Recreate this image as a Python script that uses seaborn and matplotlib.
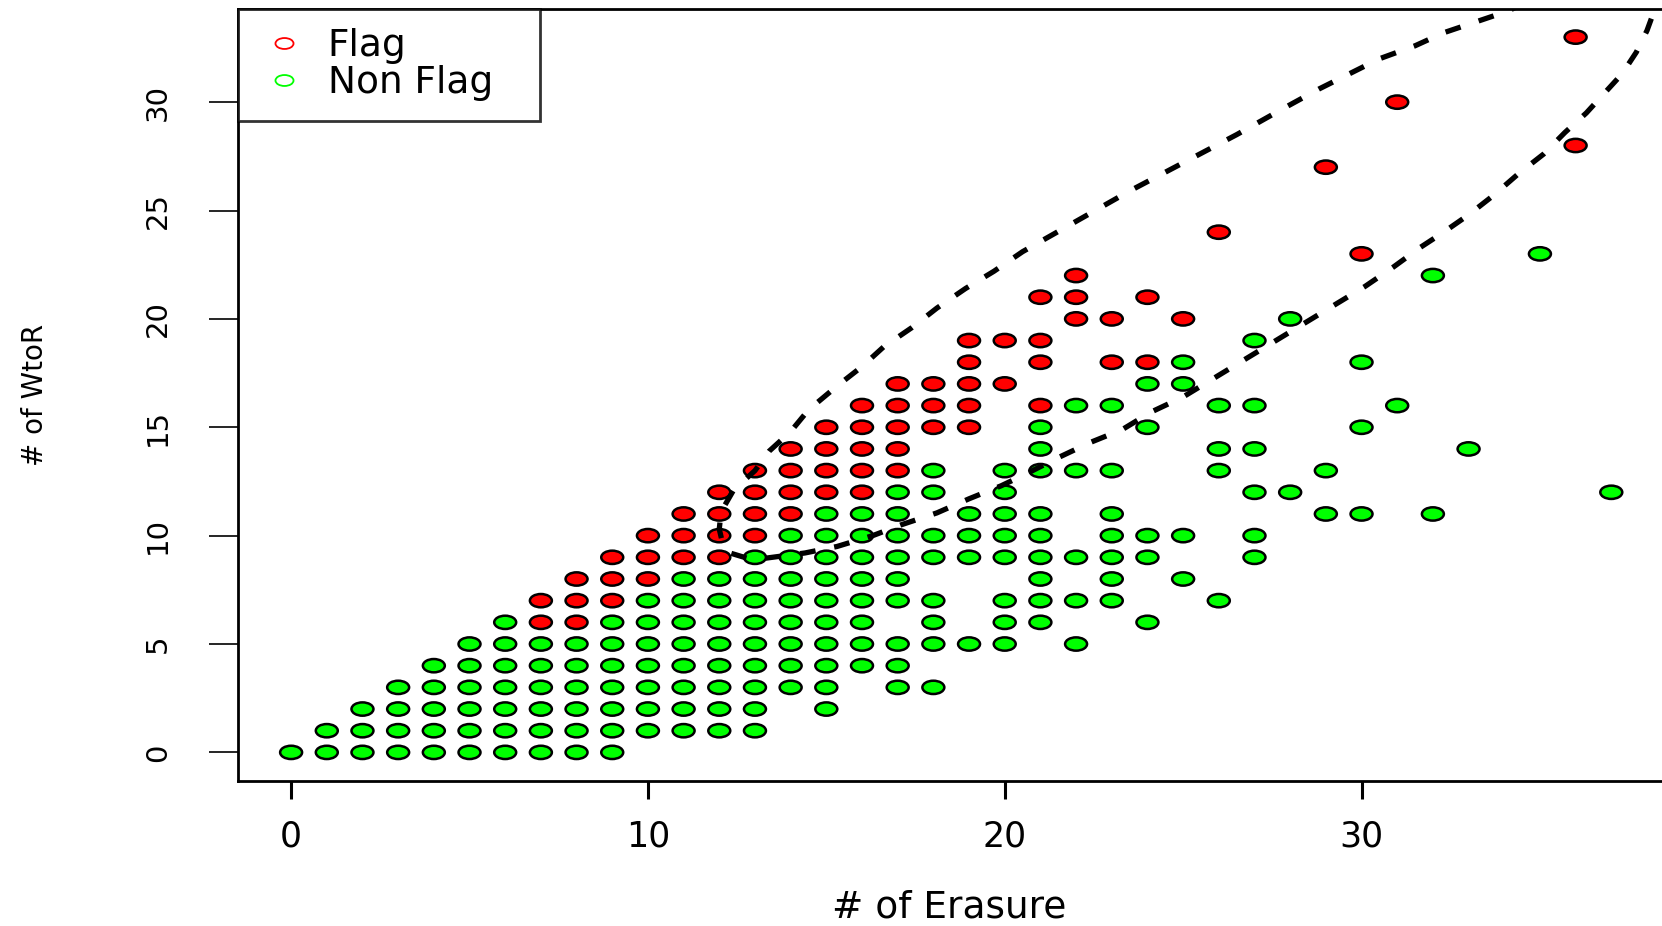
import numpy as np
import pandas as pd
import matplotlib
matplotlib.use("Agg")
import matplotlib.pyplot as plt
from matplotlib.path import Path
from matplotlib.transforms import Affine2D
from matplotlib.lines import Line2D
import seaborn as sns

# ---------------- data ----------------
categories = ["Flag", "Non Flag"]
colors = ["#FF0000", "#00FF00"]

flag_x = [7, 8,
          7, 8, 9,
          8, 9, 10,
          9, 10, 11, 12,
          10, 11, 12, 13,
          11, 12, 13, 14,
          12, 13, 14, 15, 16,
          13, 14, 15, 16, 17,
          14, 15, 16, 17,
          15, 16, 17, 18, 19,
          16, 17, 18, 19, 21,
          17, 18, 19, 20,
          19, 21, 23, 24,
          19, 20, 21,
          22, 23, 25,
          21, 22, 24,
          22, 30, 26, 29, 36, 31, 36]
flag_y = [6, 6,
          7, 7, 7,
          8, 8, 8,
          9, 9, 9, 9,
          10, 10, 10, 10,
          11, 11, 11, 11,
          12, 12, 12, 12, 12,
          13, 13, 13, 13, 13,
          14, 14, 14, 14,
          15, 15, 15, 15, 15,
          16, 16, 16, 16, 16,
          17, 17, 17, 17,
          18, 18, 18, 18,
          19, 19, 19,
          20, 20, 20,
          21, 21, 21,
          22, 23, 24, 27, 28, 30, 33]

nonflag_x = [0, 1, 2, 3, 4, 5, 6, 7, 8, 9,
             1, 2, 3, 4, 5, 6, 7, 8, 9, 10, 11, 12, 13,
             2, 3, 4, 5, 6, 7, 8, 9, 10, 11, 12, 13, 15,
             3, 4, 5, 6, 7, 8, 9, 10, 11, 12, 13, 14, 15, 17, 18,
             4, 5, 6, 7, 8, 9, 10, 11, 12, 13, 14, 15, 16, 17,
             5, 6, 7, 8, 9, 10, 11, 12, 13, 14, 15, 16, 17, 18, 19, 20, 22,
             6, 9, 10, 11, 12, 13, 14, 15, 16, 18, 20, 21, 24,
             10, 11, 12, 13, 14, 15, 16, 17, 18, 20, 21, 22, 23, 26,
             11, 12, 13, 14, 15, 16, 17, 21, 23, 25,
             13, 14, 15, 16, 17, 18, 19, 20, 21, 22, 23, 24, 27,
             14, 15, 16, 17, 18, 19, 20, 21, 23, 24, 25, 27,
             15, 16, 17, 19, 20, 21, 23, 29, 30, 32,
             17, 18, 20, 27, 28, 37,
             18, 20, 21, 22, 23, 26, 29,
             21, 26, 27, 33,
             21, 24, 30,
             22, 23, 26, 27, 31,
             24, 25,
             25, 30,
             27,
             28,
             32,
             35]
nonflag_y = [0, 0, 0, 0, 0, 0, 0, 0, 0, 0,
             1, 1, 1, 1, 1, 1, 1, 1, 1, 1, 1, 1, 1,
             2, 2, 2, 2, 2, 2, 2, 2, 2, 2, 2, 2, 2,
             3, 3, 3, 3, 3, 3, 3, 3, 3, 3, 3, 3, 3, 3, 3,
             4, 4, 4, 4, 4, 4, 4, 4, 4, 4, 4, 4, 4, 4,
             5, 5, 5, 5, 5, 5, 5, 5, 5, 5, 5, 5, 5, 5, 5, 5, 5,
             6, 6, 6, 6, 6, 6, 6, 6, 6, 6, 6, 6, 6,
             7, 7, 7, 7, 7, 7, 7, 7, 7, 7, 7, 7, 7, 7,
             8, 8, 8, 8, 8, 8, 8, 8, 8, 8,
             9, 9, 9, 9, 9, 9, 9, 9, 9, 9, 9, 9, 9,
             10, 10, 10, 10, 10, 10, 10, 10, 10, 10, 10, 10,
             11, 11, 11, 11, 11, 11, 11, 11, 11, 11,
             12, 12, 12, 12, 12, 12,
             13, 13, 13, 13, 13, 13, 13,
             14, 14, 14, 14,
             15, 15, 15,
             16, 16, 16, 16, 16,
             17, 17,
             18, 18,
             19,
             20,
             22,
             23]

# dashed boundary curve
curve_x = [34.6, 34.1, 33.2, 32.3, 31.5, 30.5, 29.65, 28.8, 27.8, 26.5, 25.0,
           23.5, 22.0, 20.5, 19.7, 18.9, 18.1, 17.4, 16.6, 16.0, 15.3, 14.5,
           14.0, 13.4, 13.0, 12.4, 12.05, 12.0, 12.1, 12.3, 12.8, 13.3, 14.4,
           15.3, 16.3, 17.1, 18.1, 19.0, 19.9, 20.6, 21.5, 22.4, 23.3, 24.1,
           25.0, 25.8, 26.7, 27.5, 28.4, 29.2, 30.1, 30.9, 31.65, 32.3, 33.0,
           33.7, 34.4, 35.1, 35.7, 36.3, 36.8, 37.3, 37.7, 38.0, 38.2, 38.4]
curve_y = [34.6, 34.2, 33.7, 33.2, 32.6, 32.0, 31.3, 30.6, 29.7, 28.5, 27.2,
           25.9, 24.5, 23.1, 22.2, 21.4, 20.5, 19.6, 18.7, 17.8, 16.9, 15.8,
           14.8, 13.9, 13.0, 12.1, 11.1, 10.3, 9.6, 9.2, 8.95, 8.96, 9.2,
           9.5, 10.0, 10.5, 11.05, 11.7, 12.3, 12.85, 13.6, 14.3, 14.9, 15.7,
           16.4, 17.2, 18.1, 18.9, 19.8, 20.6, 21.5, 22.4, 23.3, 24.0, 24.8,
           25.7, 26.7, 27.6, 28.6, 29.5, 30.4, 31.3, 32.3, 33.3, 34.2, 34.8]

x_ticks = [0, 10, 20, 30]
y_ticks = [0, 5, 10, 15, 20, 25, 30]
x_label = "# of Erasure"
y_label = "# of WtoR"

# ---------------- style ----------------
sns.set_style("white")
plt.rcParams['font.family'] = ['DejaVu Sans']
plt.rcParams['text.color'] = 'black'
plt.rcParams['axes.labelcolor'] = 'black'
plt.rcParams['xtick.color'] = 'black'
plt.rcParams['ytick.color'] = 'black'

df = pd.DataFrame({
    "erasure": flag_x + nonflag_x,
    "wtor": flag_y + nonflag_y,
    "group": [categories[0]] * len(flag_x) + [categories[1]] * len(nonflag_x),
})

W, H = 1662, 926
fig = plt.figure(figsize=(W / 100, H / 100), dpi=100)
fig.patch.set_facecolor("white")
ax = fig.add_axes([238.3 / W, (H - 781) / H, 1425.8 / W, 772.5 / H])

uc = Path.unit_circle()
ellipse = Path(Affine2D().scale(1.65, 1.0).transform(uc.vertices), uc.codes)

sns.scatterplot(data=df, x="erasure", y="wtor", hue="group",
                palette=dict(zip(categories, colors)), marker=ellipse,
                s=250, edgecolor="black", linewidth=1.8, legend=False,
                ax=ax, zorder=3)

ax.plot(curve_x, curve_y, color="black", lw=3.8, dashes=(3.0, 3.6),
        solid_capstyle="butt", dash_capstyle="butt", zorder=4)

ax.set_xlim(-1.48, 38.48)
ax.set_ylim(-1.32, 34.32)
ax.set_xticks(x_ticks)
ax.set_yticks(y_ticks)
ax.tick_params(axis="x", length=13, width=2.2, pad=15, labelsize=25,
               direction="out", colors="black", bottom=True)
ax.tick_params(axis="y", length=21, width=1.2, pad=27, labelsize=21,
               direction="out", colors="black", left=True, labelrotation=90)
for lab in ax.get_yticklabels():
    lab.set_va("center")

for sp in ax.spines.values():
    sp.set_color("black")
    sp.set_linewidth(2)

ax.set_xlabel(x_label, fontsize=27, color="black")
ax.xaxis.label.set_va("center")
ax.xaxis.set_label_coords(0.4985, -0.1644)
ax.set_ylabel(y_label, fontsize=20, color="black")
ax.yaxis.label.set_va("center")
ax.yaxis.set_label_coords(-0.1426, 0.5)

handles = [Line2D([], [], linestyle="none", marker=ellipse, markersize=13.0,
                  markerfacecolor="none", markeredgecolor=c, markeredgewidth=1.3)
           for c in colors]
leg = ax.legend(handles, categories, loc="upper left",
                bbox_to_anchor=(0, 1, (540 - 238.3) / 1425.8, 0), mode="expand",
                borderaxespad=0, fontsize=27, frameon=True, fancybox=False,
                edgecolor="black", borderpad=0.52, handlelength=1.42,
                handletextpad=0.44, labelspacing=0.03, labelcolor="black")
leg.get_frame().set_linewidth(2)
leg.set_zorder(5)

fig.savefig("out.png", dpi=100)
